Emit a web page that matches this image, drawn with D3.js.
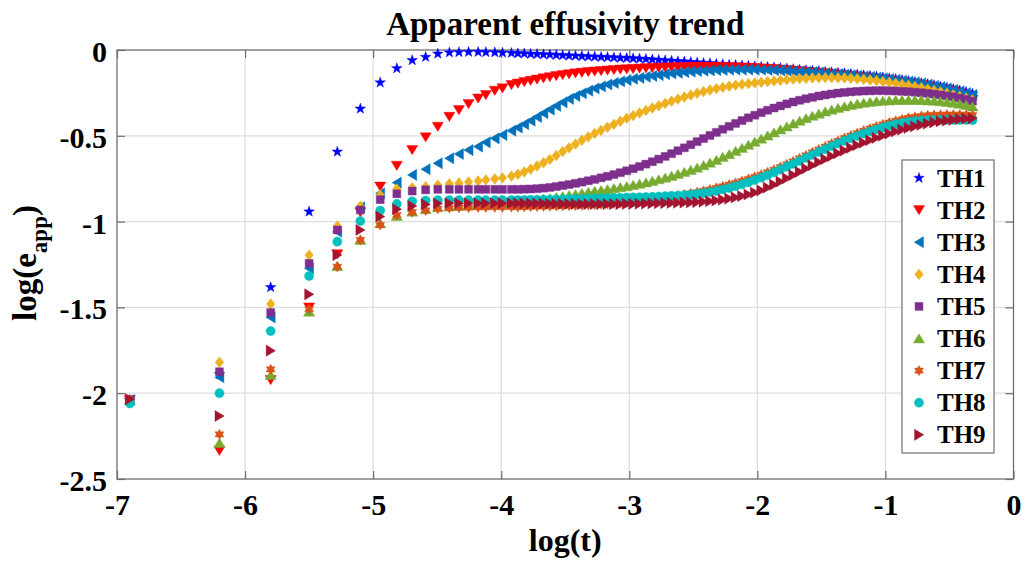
<!DOCTYPE html>
<html><head><meta charset="utf-8">
<script src="https://cdn.jsdelivr.net/npm/d3@7"></script>
<style>
body{margin:0;background:#fff}
svg text{font-family:"Liberation Serif","Times New Roman",serif;font-weight:bold;fill:#000}
</style>
</head><body>
<svg id="chart" width="1025" height="563"></svg>
<script>
// ---------- data ----------
const logT = [-6.9,-6.2,-5.8,-5.5,-5.28,-5.10,-4.945,-4.815,-4.695,-4.59,-4.495,-4.405,-4.33,-4.255,-4.18,-4.12,-4.05,-3.99,-3.92,
  -3.87,-3.82,-3.77,-3.72,-3.67,-3.62,-3.57,-3.52,-3.47,-3.42,
  -3.37,-3.32,-3.27,-3.22,-3.17,-3.12,-3.07,-3.02,-2.97,-2.92,
  -2.87,-2.82,-2.77,-2.72,-2.67,-2.62,-2.57,-2.52,-2.47,-2.42,
  -2.37,-2.32,-2.27,-2.22,-2.17,-2.12,-2.07,-2.02,-1.97,-1.92,
  -1.87,-1.82,-1.77,-1.72,-1.67,-1.62,-1.57,-1.52,-1.47,-1.42,
  -1.37,-1.32,-1.27,-1.22,-1.17,-1.12,-1.07,-1.02,-0.97,-0.92,
  -0.87,-0.82,-0.77,-0.72,-0.67,-0.62,-0.57,-0.52,-0.47,-0.42,
  -0.37,-0.32];

const th1 = [-2.04,-1.89,-1.383,-0.942,-0.593,-0.342,-0.19,-0.107,-0.060,-0.041,-0.022,-0.015,-0.013,-0.012,-0.012,-0.013,-0.014,-0.016,-0.018,
  -0.020,-0.021,-0.023,-0.024,-0.026,-0.027,-0.029,-0.031,-0.033,-0.034,
  -0.036,-0.038,-0.039,-0.041,-0.042,-0.044,-0.046,-0.047,-0.049,-0.051,
  -0.053,-0.056,-0.058,-0.061,-0.063,-0.066,-0.068,-0.071,-0.073,-0.076,
  -0.078,-0.081,-0.083,-0.086,-0.088,-0.091,-0.093,-0.096,-0.098,-0.100,
  -0.103,-0.106,-0.109,-0.112,-0.115,-0.118,-0.121,-0.124,-0.127,-0.130,
  -0.133,-0.136,-0.140,-0.143,-0.147,-0.151,-0.155,-0.160,-0.165,-0.170,
  -0.175,-0.181,-0.187,-0.193,-0.199,-0.206,-0.213,-0.220,-0.228,-0.236,
  -0.245,-0.255];

const th2 = [-2.04,-2.335,-1.923,-1.50,-1.19,-0.945,-0.796,-0.674,-0.583,-0.509,-0.447,-0.389,-0.35,-0.315,-0.282,-0.262,-0.237,-0.223,-0.204,
  -0.195,-0.187,-0.179,-0.172,-0.165,-0.158,-0.152,-0.146,-0.141,-0.136,
  -0.132,-0.128,-0.125,-0.122,-0.119,-0.116,-0.114,-0.112,-0.110,-0.108,
  -0.106,-0.105,-0.103,-0.102,-0.101,-0.100,-0.099,-0.098,-0.098,-0.098,
  -0.098,-0.098,-0.099,-0.100,-0.101,-0.102,-0.103,-0.105,-0.107,-0.109,
  -0.111,-0.114,-0.117,-0.120,-0.123,-0.126,-0.129,-0.132,-0.136,-0.140,
  -0.143,-0.147,-0.151,-0.155,-0.159,-0.163,-0.168,-0.172,-0.177,-0.182,
  -0.187,-0.192,-0.198,-0.204,-0.210,-0.217,-0.224,-0.231,-0.239,-0.250,
  -0.265,-0.290];

const th3 = [-2.04,-1.907,-1.558,-1.272,-1.059,-0.917,-0.835,-0.773,-0.728,-0.695,-0.66,-0.631,-0.606,-0.583,-0.563,-0.538,-0.515,-0.495,-0.47,
  -0.452,-0.432,-0.412,-0.390,-0.368,-0.347,-0.326,-0.305,-0.285,-0.268,
  -0.252,-0.237,-0.224,-0.212,-0.201,-0.192,-0.183,-0.175,-0.168,-0.162,
  -0.156,-0.151,-0.146,-0.141,-0.137,-0.133,-0.129,-0.126,-0.123,-0.121,
  -0.119,-0.117,-0.116,-0.115,-0.114,-0.114,-0.114,-0.114,-0.115,-0.116,
  -0.117,-0.119,-0.121,-0.123,-0.125,-0.127,-0.129,-0.132,-0.135,-0.138,
  -0.141,-0.144,-0.147,-0.150,-0.154,-0.157,-0.161,-0.165,-0.169,-0.174,
  -0.179,-0.184,-0.189,-0.195,-0.202,-0.209,-0.216,-0.224,-0.232,-0.241,
  -0.251,-0.262];

const th4 = [-2.04,-1.82,-1.48,-1.195,-1.026,-0.91,-0.845,-0.81,-0.803,-0.797,-0.787,-0.78,-0.775,-0.769,-0.763,-0.757,-0.751,-0.745,-0.735,
  -0.724,-0.710,-0.694,-0.676,-0.657,-0.637,-0.615,-0.592,-0.570,-0.548,
  -0.526,-0.506,-0.486,-0.468,-0.450,-0.433,-0.415,-0.398,-0.382,-0.367,
  -0.352,-0.338,-0.325,-0.311,-0.298,-0.286,-0.274,-0.263,-0.252,-0.242,
  -0.233,-0.225,-0.218,-0.211,-0.205,-0.200,-0.196,-0.192,-0.188,-0.184,
  -0.180,-0.177,-0.173,-0.170,-0.167,-0.165,-0.163,-0.162,-0.161,-0.161,
  -0.162,-0.163,-0.165,-0.168,-0.171,-0.175,-0.179,-0.184,-0.189,-0.194,
  -0.200,-0.206,-0.213,-0.220,-0.228,-0.236,-0.244,-0.252,-0.261,-0.270,
  -0.280,-0.291];

const th5 = [-2.04,-1.875,-1.53,-1.243,-1.049,-0.932,-0.872,-0.838,-0.822,-0.815,-0.812,-0.812,-0.812,-0.812,-0.812,-0.812,-0.812,-0.812,-0.812,
  -0.812,-0.811,-0.810,-0.808,-0.805,-0.801,-0.796,-0.790,-0.784,-0.777,
  -0.770,-0.762,-0.754,-0.745,-0.736,-0.726,-0.715,-0.704,-0.692,-0.679,
  -0.665,-0.651,-0.636,-0.620,-0.604,-0.587,-0.570,-0.552,-0.534,-0.516,
  -0.498,-0.480,-0.462,-0.445,-0.428,-0.411,-0.395,-0.380,-0.365,-0.351,
  -0.338,-0.326,-0.314,-0.303,-0.293,-0.284,-0.276,-0.268,-0.262,-0.256,
  -0.251,-0.247,-0.244,-0.241,-0.239,-0.238,-0.237,-0.237,-0.238,-0.239,
  -0.241,-0.243,-0.246,-0.249,-0.253,-0.257,-0.262,-0.267,-0.273,-0.280,
  -0.288,-0.298];

const th6 = [-2.04,-2.29,-1.894,-1.525,-1.26,-1.107,-1.01,-0.967,-0.942,-0.928,-0.917,-0.912,-0.908,-0.905,-0.902,-0.899,-0.896,-0.893,-0.89,
  -0.887,-0.883,-0.879,-0.874,-0.869,-0.864,-0.858,-0.852,-0.846,-0.840,
  -0.834,-0.828,-0.822,-0.817,-0.812,-0.806,-0.800,-0.794,-0.787,-0.780,
  -0.772,-0.763,-0.754,-0.744,-0.734,-0.723,-0.711,-0.699,-0.686,-0.672,
  -0.657,-0.641,-0.624,-0.607,-0.589,-0.571,-0.553,-0.535,-0.517,-0.499,
  -0.481,-0.463,-0.446,-0.429,-0.413,-0.398,-0.384,-0.371,-0.359,-0.348,
  -0.338,-0.329,-0.321,-0.314,-0.308,-0.303,-0.299,-0.296,-0.294,-0.292,
  -0.291,-0.291,-0.291,-0.292,-0.294,-0.296,-0.299,-0.303,-0.308,-0.314,
  -0.321,-0.330];

const th7 = [-2.04,-2.24,-1.861,-1.51,-1.263,-1.107,-1.02,-0.962,-0.945,-0.935,-0.925,-0.921,-0.919,-0.918,-0.917,-0.917,-0.916,-0.916,-0.915,
  -0.915,-0.914,-0.913,-0.912,-0.911,-0.910,-0.909,-0.908,-0.907,-0.906,
  -0.905,-0.903,-0.901,-0.899,-0.897,-0.894,-0.891,-0.888,-0.884,-0.880,
  -0.876,-0.871,-0.866,-0.861,-0.855,-0.849,-0.843,-0.836,-0.829,-0.821,
  -0.813,-0.804,-0.795,-0.785,-0.775,-0.764,-0.752,-0.740,-0.727,-0.713,
  -0.698,-0.682,-0.666,-0.649,-0.632,-0.614,-0.597,-0.580,-0.563,-0.546,
  -0.530,-0.514,-0.499,-0.485,-0.471,-0.458,-0.446,-0.434,-0.423,-0.413,
  -0.404,-0.396,-0.390,-0.385,-0.381,-0.379,-0.378,-0.377,-0.377,-0.377,
  -0.378,-0.380];

const th8 = [-2.06,-2.0,-1.638,-1.317,-1.117,-0.997,-0.936,-0.897,-0.882,-0.877,-0.875,-0.875,-0.875,-0.875,-0.875,-0.875,-0.875,-0.875,-0.874,
  -0.874,-0.874,-0.873,-0.873,-0.872,-0.872,-0.871,-0.870,-0.869,-0.868,
  -0.867,-0.866,-0.865,-0.864,-0.863,-0.862,-0.861,-0.860,-0.859,-0.858,
  -0.857,-0.856,-0.854,-0.852,-0.850,-0.848,-0.846,-0.843,-0.839,-0.834,
  -0.828,-0.821,-0.813,-0.804,-0.794,-0.783,-0.771,-0.758,-0.744,-0.729,
  -0.713,-0.697,-0.680,-0.663,-0.646,-0.628,-0.611,-0.594,-0.577,-0.561,
  -0.545,-0.529,-0.514,-0.500,-0.487,-0.474,-0.462,-0.451,-0.441,-0.432,
  -0.425,-0.419,-0.414,-0.411,-0.409,-0.408,-0.407,-0.407,-0.407,-0.407,
  -0.408,-0.409];

const th9 = [-2.035,-2.133,-1.752,-1.424,-1.195,-1.049,-0.971,-0.928,-0.909,-0.9,-0.895,-0.893,-0.893,-0.893,-0.893,-0.893,-0.893,-0.893,-0.893,
  -0.893,-0.894,-0.894,-0.895,-0.895,-0.896,-0.896,-0.897,-0.897,-0.897,
  -0.898,-0.898,-0.898,-0.898,-0.898,-0.898,-0.898,-0.897,-0.897,-0.896,
  -0.895,-0.894,-0.893,-0.892,-0.891,-0.890,-0.889,-0.888,-0.886,-0.884,
  -0.881,-0.877,-0.872,-0.866,-0.859,-0.851,-0.842,-0.831,-0.818,-0.802,
  -0.785,-0.767,-0.748,-0.729,-0.710,-0.691,-0.672,-0.654,-0.636,-0.619,
  -0.602,-0.586,-0.570,-0.555,-0.540,-0.526,-0.512,-0.499,-0.487,-0.475,
  -0.464,-0.454,-0.445,-0.437,-0.429,-0.422,-0.416,-0.411,-0.407,-0.403,
  -0.400,-0.398];

const seriesNames = ["TH1","TH2","TH3","TH4","TH5","TH6","TH7","TH8","TH9"];
const seriesValues = [th1,th2,th3,th4,th5,th6,th7,th8,th9];
const xTicks = [-7,-6,-5,-4,-3,-2,-1,0];
const yTicks = [0,-0.5,-1,-1.5,-2,-2.5];
const titleText = "Apparent effusivity trend";

// ---------- styles ----------
const colors = ["#0000FF","#FF0000","#0072BD","#EDB120","#7E2F8E","#77AC30","#D95319","#00BFBF","#A2142F"];

// custom marker types for d3.symbol (size = radius in px)
function poly(c, pts){ pts.forEach((p,i)=> i? c.lineTo(p[0],p[1]) : c.moveTo(p[0],p[1])); c.closePath(); }
const mk = {
  star: {draw(c,r){ const pts=[]; for(let i=0;i<10;i++){const a=-Math.PI/2+i*Math.PI/5, rr=i%2? r*0.4 : r; pts.push([rr*Math.cos(a), rr*Math.sin(a)]);} poly(c,pts);} },
  hexa: {draw(c,r){ const pts=[]; for(let i=0;i<12;i++){const a=-Math.PI/2+i*Math.PI/6, rr=i%2? r*0.58 : r; pts.push([rr*Math.cos(a), rr*Math.sin(a)]);} poly(c,pts);} },
  down: {draw(c,r){ poly(c,[[-r,-r*0.8],[r,-r*0.8],[0,r*0.85]]);} },
  up:   {draw(c,r){ poly(c,[[-r,r*0.8],[r,r*0.8],[0,-r*0.85]]);} },
  left: {draw(c,r){ poly(c,[[-r*0.85,0],[r*0.8,-r],[r*0.8,r]]);} },
  right:{draw(c,r){ poly(c,[[r*0.85,0],[-r*0.8,-r],[-r*0.8,r]]);} },
  diamond:{draw(c,r){ poly(c,[[0,-r],[r*0.8,0],[0,r],[-r*0.8,0]]);} },
  square:{draw(c,r){ poly(c,[[-r,-r],[r,-r],[r,r],[-r,r]]);} },
  circle:{draw(c,r){ c.moveTo(r,0); c.arc(0,0,r,0,2*Math.PI); c.closePath();} }
};
const markerTypes = [mk.star, mk.down, mk.left, mk.diamond, mk.square, mk.up, mk.hexa, mk.circle, mk.right];
const markerR = [5.6, 5.6, 5.6, 5.4, 4.0, 5.6, 5.2, 4.6, 5.6];

// ---------- layout ----------
const svg = d3.select("#chart");
const L = 117, R = 1013.5, T = 50, B = 479;
const x = d3.scaleLinear().domain([-7,0]).range([L,R]);
const y = d3.scaleLinear().domain([-2.5,0]).range([B,T]);
const fmt = v => (v === 0 ? "0" : String(v));

// grid
const grid = svg.append("g");
grid.selectAll("line.gx").data(xTicks.slice(1,-1)).join("line")
  .attr("x1", d=>x(d)).attr("x2", d=>x(d)).attr("y1", T).attr("y2", B)
  .attr("stroke", "#dedede").attr("stroke-width", 1.3);
grid.selectAll("line.gy").data(yTicks.slice(1,-1)).join("line")
  .attr("x1", L).attr("x2", R).attr("y1", d=>y(d)).attr("y2", d=>y(d))
  .attr("stroke", "#dedede").attr("stroke-width", 1.3);

// axes
const axB = svg.append("g").attr("transform", `translate(0,${B})`)
  .call(d3.axisBottom(x).tickValues(xTicks).tickFormat(fmt).tickSizeInner(-8).tickSizeOuter(0).tickPadding(15));
const axL = svg.append("g").attr("transform", `translate(${L},0)`)
  .call(d3.axisLeft(y).tickValues(yTicks).tickFormat(fmt).tickSizeInner(-8).tickSizeOuter(0).tickPadding(10));
const axT = svg.append("g").attr("transform", `translate(0,${T})`)
  .call(d3.axisTop(x).tickValues(xTicks).tickFormat("").tickSizeInner(-8).tickSizeOuter(0));
const axR = svg.append("g").attr("transform", `translate(${R},0)`)
  .call(d3.axisRight(y).tickValues(yTicks).tickFormat("").tickSizeInner(-8).tickSizeOuter(0));
[axB,axL,axT,axR].forEach(g => {
  g.select(".domain").remove();
  g.selectAll(".tick line").attr("stroke", "#6e6e6e").attr("stroke-width", 1.2);
  g.selectAll("text").attr("font-size", 30).attr("font-family", '"Liberation Serif","Times New Roman",serif').attr("font-weight", "bold").attr("fill", "#000");
});
axL.selectAll("text").attr("dy", "0.38em");

// box
svg.append("rect").attr("x", L).attr("y", T).attr("width", R-L).attr("height", B-T)
  .attr("fill", "none").attr("stroke", "#6e6e6e").attr("stroke-width", 1.3);

// series
const sym = d3.symbol();
const pts = svg.append("g");
seriesValues.forEach((vals, si) => {
  const data = logT.map((t,i) => ({t, v: vals[i]}));
  pts.append("g").selectAll("path").data(data).join("path")
    .attr("transform", d => `translate(${x(d.t)},${y(d.v)})`)
    .attr("d", sym.type(markerTypes[si]).size(markerR[si])())
    .attr("fill", colors[si]).attr("stroke", colors[si]).attr("stroke-width", 0.4);
});

// title & labels
svg.append("text").attr("x", (L+R)/2).attr("y", 35).attr("text-anchor", "middle")
  .attr("font-size", 33).text(titleText);
svg.append("text").attr("x", (L+R)/2).attr("y", 551).attr("text-anchor", "middle")
  .attr("font-size", 32).text("log(t)");
const yl = svg.append("text").attr("transform", "translate(36,263) rotate(-90)")
  .attr("text-anchor", "middle").attr("font-size", 33);
yl.append("tspan").text("log(e");
yl.append("tspan").attr("font-size", 23).attr("dy", 11).text("app");
yl.append("tspan").attr("dy", -11).text(")");

// legend
const lg = svg.append("g");
lg.append("rect").attr("x", 902).attr("y", 160).attr("width", 92).attr("height", 293)
  .attr("fill", "#fff").attr("stroke", "#6e6e6e").attr("stroke-width", 1.2);
seriesNames.forEach((name, i) => {
  const cy = 178 + i*32.1;
  lg.append("path").attr("transform", `translate(919,${cy})`)
    .attr("d", sym.type(markerTypes[i]).size(markerR[i])())
    .attr("fill", colors[i]).attr("stroke", colors[i]).attr("stroke-width", 0.4);
  lg.append("text").attr("x", 937).attr("y", cy + 8.5).attr("font-size", 25).text(name);
});
</script>
</body></html>
